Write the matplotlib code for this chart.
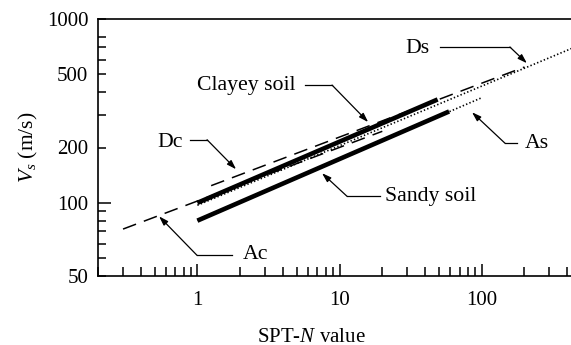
import matplotlib
matplotlib.use("Agg")
import matplotlib.pyplot as plt
from matplotlib.ticker import FixedLocator, FixedFormatter, NullFormatter

plt.rcParams['font.family'] = ['Liberation Serif', 'DejaVu Serif']
plt.rcParams['mathtext.fontset'] = 'custom'
plt.rcParams['mathtext.rm'] = 'Liberation Serif'
plt.rcParams['mathtext.it'] = 'Liberation Serif:italic'
plt.rcParams['lines.scale_dashes'] = False

# ---- data ----
clay_N = [1, 49]
clay_Vs = [100, 365]
sand_N = [1, 59]
sand_Vs = [80, 314]
Ac_N = [0.3, 20]
Ac_Vs = [72, 245]
Dc_N = [1.25, 200]
Dc_Vs = [124, 548]
As_N = [1, 100]
As_Vs = [80.6, 373]
Ds_N = [1, 430]
Ds_Vs = [97, 692]

x_major = [1, 10, 100]
x_major_labels = ['1', '10', '100']
y_major = [100, 1000]
y_major_labels = ['100', '1000']
y_minor = [40, 50, 60, 70, 80, 90, 200, 300, 400, 500, 600, 700, 800]
y_minor_labels = ['50', '', '', '', '', '', '200', '', '', '500', '', '', '']

W, H = 571, 345
fig = plt.figure(figsize=(W / 100, H / 100), dpi=100)
ax = fig.add_axes([98 / W, 69 / H, (W - 98) / W, 257 / H])
ax.set_xscale('log')
ax.set_yscale('log')
ax.set_xlim(0.2, 425)
ax.set_ylim(40, 1000)

# thick lines
ax.plot(clay_N, clay_Vs, color='black', lw=3.3, solid_capstyle='butt')
ax.plot(sand_N, sand_Vs, color='black', lw=3.3, solid_capstyle='butt')
# dashed lines
ax.plot(Ac_N, Ac_Vs, color='black', lw=1.1, dashes=(10, 6), dash_capstyle='butt')
ax.plot(Dc_N, Dc_Vs, color='black', lw=1.1, dashes=(10, 6), dash_capstyle='butt')
# dotted lines
ax.plot(As_N, As_Vs, color='black', lw=1.2, dashes=(1.0, 1.6), dash_capstyle='butt')
ax.plot(Ds_N, Ds_Vs, color='black', lw=1.2, dashes=(1.0, 1.6), dash_capstyle='butt')

# spines & ticks
ax.spines['right'].set_visible(False)
for s in ['left', 'bottom', 'top']:
    ax.spines[s].set_linewidth(1.2)
ax.xaxis.set_major_locator(FixedLocator(x_major))
ax.xaxis.set_major_formatter(FixedFormatter(x_major_labels))
x_minor = [v * d for d in (0.1, 1, 10, 100) for v in range(2, 10) if 0.2 <= v * d <= 425]
ax.xaxis.set_minor_locator(FixedLocator(x_minor))
ax.xaxis.set_minor_formatter(NullFormatter())
ax.yaxis.set_major_locator(FixedLocator(y_major))
ax.yaxis.set_major_formatter(FixedFormatter(y_major_labels))
ax.yaxis.set_minor_locator(FixedLocator(y_minor))
ax.yaxis.set_minor_formatter(FixedFormatter(y_minor_labels))
ax.tick_params(which='both', direction='in', top=False, right=False, labelsize=15, width=1.1)
ax.tick_params(axis='x', which='major', length=9, pad=11)
ax.tick_params(axis='x', which='minor', length=6.2)
ax.tick_params(axis='y', which='major', length=9, pad=7)
ax.tick_params(axis='y', which='minor', length=5.5, pad=7)
ax.yaxis.get_major_ticks()[1].tick1line.set_markersize(5.5)

ax.set_ylabel(r'$V_s$ (m/s)', fontsize=15.5, labelpad=5)
fig.text(311 / W, 1 - 337 / H, r'SPT-$N$ value', fontsize=15, ha='center', va='center')

ann_kw = dict(arrowstyle='-|>,head_length=0.55,head_width=0.18', lw=0.9, color='black',
              shrinkA=0, shrinkB=0)

def leader(label, tpos, ha, h0, h1, tip):
    ax.text(tpos[0], tpos[1], label, fontsize=15.7, ha=ha, va='center')
    ax.plot([h0[0], h1[0]], [h0[1], h1[1]], color='black', lw=0.9)
    ax.annotate('', xy=tip, xytext=h1, arrowprops=ann_kw)

leader('Clayey soil', (2.20, 437), 'center', (5.72, 437), (8.86, 437), (15.9, 275))
leader('Sandy soil', (20.9, 108.5), 'left', (19.3, 108.5), (11.3, 108.5), (7.53, 145))
leader('Dc', (0.793, 213.6), 'right', (0.889, 220.4), (1.170, 220.4), (1.872, 152.3))
leader('Ac', (2.10, 52.4), 'left', (1.754, 51.8), (0.995, 51.8), (0.538, 84.4))
leader('Ds', (35.1, 695), 'center', (50.9, 704), (158, 704), (208, 575))
leader('As', (201.6, 211), 'left', (177.1, 211), (145.9, 211), (85.5, 311))

fig.savefig('out.png', dpi=100)
